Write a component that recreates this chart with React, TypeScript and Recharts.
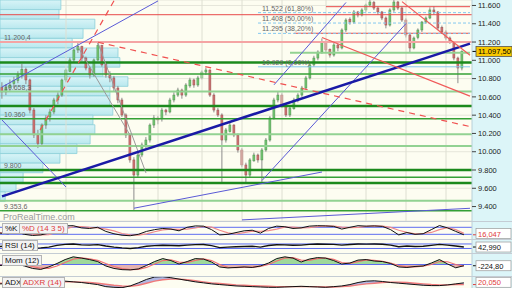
import React from 'react'
import {
  ComposedChart,
  Bar,
  Line,
  Area,
  XAxis,
  YAxis,
  ReferenceLine,
  ReferenceArea,
  CartesianGrid
} from 'recharts'

const FONT = '"Liberation Sans", Arial, sans-serif'

// daily candles
const opens = [
  10700, 10654, 10700, 10745, 10780, 10840, 10900, 10785, 10456, 10183,
  10090, 10292, 10380, 10435, 10566, 10620, 10785, 10880, 11004, 11113,
  11150, 11025, 10916, 10840, 11004, 11160, 10960, 10840, 10807, 10697,
  10566, 10402, 10183, 9910, 9745, 9964, 10074, 10128, 10292, 10369,
  10360, 10456, 10435, 10566, 10620, 10675, 10620, 10720, 10785, 10730,
  10807, 10872, 10894, 10620, 10456, 10402, 10128, 10220, 10292, 10183,
  10019, 9855, 9745, 9900, 9964, 9910, 10019, 10128, 10369, 10566,
  10620, 10511, 10402, 10470, 10566, 10620, 10697, 10807, 10950, 11025,
  11091, 11200, 11120, 11058, 11168, 11135, 11332, 11450, 11419, 11529,
  11496, 11551, 11605, 11630, 11572, 11529, 11463, 11386, 11551, 11638,
  11572, 11441, 11277, 11135, 11250, 11332, 11419, 11463, 11551, 11529,
  11360, 11310, 11244, 11200, 11025, 10916
]
const highs = [
  10760, 10740, 10790, 10820, 10880, 10960, 10920, 10800, 10480, 10240,
  10310, 10400, 10470, 10590, 10650, 10800, 10910, 11030, 11130, 11190,
  11160, 11040, 10930, 11020, 11200, 11170, 10980, 10880, 10830, 10720,
  10590, 10420, 10200, 9940, 9990, 10100, 10160, 10310, 10400, 10390,
  10480, 10470, 10590, 10650, 10700, 10690, 10750, 10810, 10800, 10830,
  10890, 10920, 10900, 10640, 10480, 10420, 10260, 10320, 10300, 10200,
  10040, 9880, 9930, 9990, 9980, 10040, 10150, 10390, 10590, 10660,
  10640, 10530, 10500, 10590, 10640, 10720, 10830, 10970, 11050, 11110,
  11240, 11220, 11130, 11190, 11180, 11350, 11460, 11470, 11550, 11540,
  11570, 11620, 11660, 11650, 11590, 11540, 11480, 11570, 11660, 11650,
  11590, 11460, 11300, 11260, 11350, 11430, 11480, 11580, 11590, 11540,
  11380, 11330, 11260, 11210, 11040, 11110
]
const lows = [
  10580, 10620, 10660, 10690, 10750, 10800, 10740, 10420, 10150, 10040,
  10070, 10250, 10330, 10410, 10520, 10600, 10760, 10870, 10980, 11080,
  10990, 10890, 10800, 10820, 10990, 10930, 10810, 10760, 10660, 10530,
  10380, 10150, 9880, 9353.6, 9720, 9940, 10040, 10100, 10260, 10300,
  10330, 10400, 10420, 10540, 10600, 10580, 10600, 10700, 10700, 10710,
  10790, 10840, 10600, 10430, 10380, 9669, 10100, 10210, 10160, 9990,
  9830, 9669, 9720, 9890, 9880, 9669, 10000, 10110, 10350, 10540,
  10480, 10380, 10380, 10460, 10540, 10600, 10680, 10790, 10930, 11000,
  11070, 11090, 11030, 11040, 11100, 11120, 11310, 11390, 11400, 11470,
  11480, 11530, 11590, 11550, 11500, 11440, 11350, 11370, 11530, 11550,
  11420, 11250, 11080, 11120, 11230, 11310, 11400, 11450, 11500, 11330,
  11290, 11220, 11180, 11000, 10750, 10890
]
const closes = [
  10654, 10700, 10730, 10780, 10840, 10900, 10785, 10456, 10183, 10090,
  10292, 10369, 10435, 10566, 10620, 10785, 10894, 11004, 11113, 11150,
  11025, 10916, 10840, 11004, 11160, 10950, 10840, 10807, 10697, 10566,
  10402, 10183, 9910, 9745, 9964, 10074, 10128, 10292, 10369, 10347,
  10456, 10435, 10566, 10620, 10675, 10620, 10730, 10785, 10730, 10807,
  10872, 10894, 10620, 10456, 10402, 10128, 10238, 10292, 10183, 10019,
  9855, 9745, 9910, 9964, 9910, 10019, 10128, 10369, 10566, 10620,
  10511, 10402, 10478, 10566, 10620, 10697, 10807, 10950, 11025, 11091,
  11200, 11113, 11058, 11168, 11135, 11332, 11441, 11419, 11529, 11496,
  11551, 11605, 11638, 11572, 11529, 11463, 11386, 11551, 11638, 11572,
  11441, 11277, 11135, 11244, 11332, 11419, 11463, 11551, 11529, 11354,
  11310, 11244, 11200, 11025, 10916, 11097.5
]
const SLOTS = 118
const PRICE_DOMAIN = [9242, 11660]

const priceTicks = [9400, 9600, 9800, 10000, 10200, 10400, 10600, 10800, 11000, 11200, 11400, 11600]

// volume profile (bucket low price, volume)
const profileLows = [
  11555, 11450, 11345, 11240, 11135, 11030, 10925, 10820, 10715, 10610, 10505,
  10400, 10295, 10190, 10085, 9980, 9875, 9770, 9665, 9560, 9455
]
const profileVolume = [129, 125, 201, 176, 153, 250, 254, 218, 271, 233, 233, 239, 197, 201, 191, 163, 127, 91, 49, 34, 11]
const profileBin = 105

// support / resistance levels
const redLevels = [11587, 11499, 11296]
const redStarts = [81, 0, 73]
const pinkLevel = 11200.4
const darkGreenLevels = [10976, 10500, 9800, 9658]
const midGreenLevels = [10850, 10360, 9720, 9353.6]
const lightGreenLevels = [11084, 10658.3, 10190, 10063, 9464]
const lightGreenStarts = [72, 0, 0, 0, 0]
const taggedLevels = [11200.4, 10658.3, 10360, 9800, 9353.6]

// fibonacci retracement
const fibLevels = [11522, 11408, 11295, 10929]
const fibPct = ['61,80%', '50,00%', '38,20%', '0,00%']
const fibStart = 64

// trend lines [day1, price1, day2, price2]
const thinBlue = [
  [0, 10708, 39, 11650],
  [0, 10347, 16, 9614],
  [33, 9382, 80, 9778],
  [65, 9685, 101, 11402],
  [68, 10732, 86, 11633],
  [60, 9254, 117, 9381]
]
const thickBlue = [[0, 9512, 117, 11183]]
const grayLines = [
  [19, 11146, 32, 10183],
  [24, 11190, 36, 9767]
]
const redDashed = [
  [28, 11651, 9, 10197],
  [24, 11198, 117, 10275]
]
const redSolid = [
  [80, 11249, 117, 10608],
  [100, 11642, 117, 11055]
]
const monthStarts = [16, 39, 50, 60, 70, 81, 91, 101, 111]

// indicators (sampled every 2 days)
const stochK = [30, 25, 40, 20, 10, 15, 30, 70, 92, 94, 75, 70, 80, 45, 25, 12, 8, 20, 45, 60, 70, 65, 50, 80, 92, 90, 60, 15, 20, 35, 50, 55, 30, 70, 90, 85, 70, 75, 90, 94, 92, 88, 65, 80, 94, 90, 92, 88, 60, 15, 35, 20, 25, 60, 95, 75, 45, 16.047]
const stochD = [34, 30, 32, 28, 22, 15, 18, 38, 64, 85, 87, 80, 75, 65, 50, 27, 15, 13, 24, 42, 58, 65, 62, 65, 74, 87, 81, 55, 32, 23, 35, 47, 45, 52, 64, 82, 82, 76, 78, 86, 92, 91, 82, 78, 80, 88, 92, 90, 80, 55, 37, 24, 27, 36, 60, 77, 60, 28]
const rsi = [48, 52, 58, 45, 32, 35, 42, 58, 66, 70, 62, 60, 64, 52, 42, 35, 30, 38, 50, 55, 58, 57, 54, 60, 64, 65, 55, 38, 42, 45, 48, 50, 42, 56, 63, 62, 58, 60, 66, 70, 68, 66, 60, 65, 70, 69, 70, 68, 60, 45, 52, 48, 50, 58, 66, 60, 52, 42.99]
const mom = [-180, -90, 90, -270, -720, -900, -450, 180, 900, 1400, 1170, 900, 540, -270, -720, -940, -990, -810, -180, 540, 1080, 720, 90, 540, 1080, 990, 450, -450, -630, -540, -450, -540, -270, 270, 1080, 1400, 1170, 450, 990, 1260, 1170, 720, 90, 270, 810, 900, 630, 540, 180, -450, -540, -360, -270, 270, 900, 100, -600, -224.8]
const momSignal = [-90, -110, -40, -90, -360, -680, -720, -270, 360, 990, 1220, 1040, 760, 180, -360, -760, -940, -900, -540, 90, 720, 860, 450, 360, 760, 1010, 720, 0, -500, -580, -500, -490, -360, 0, 630, 1170, 1260, 810, 760, 1080, 1190, 940, 360, 220, 540, 830, 760, 580, 270, -180, -450, -450, -320, 0, 540, 500, 0, -300]
const adx = [22, 23, 24, 22, 21, 24, 28, 33, 30, 28, 26, 23, 20, 14, 12, 11, 16, 25, 35, 42, 43, 40, 36, 32, 28, 25, 22, 20, 18, 16, 15, 14, 13, 12, 12, 13, 14, 15, 14, 13, 12, 14, 16, 20, 26, 30, 31, 29, 26, 24, 22, 20, 18, 17, 17, 19, 22, 25]
const adxr = [24, 24, 23, 23, 22, 22, 24, 27, 28, 28, 27, 26, 24, 21, 18, 16, 15, 18, 24, 30, 34, 36, 36, 34, 31, 28, 25, 23, 21, 19, 18, 17, 16, 15, 14, 14, 14, 14, 14, 14, 13, 13, 14, 16, 19, 22, 24, 26, 27, 27, 26, 24, 22, 20, 19, 19, 20, 20.05]
const PANEL_SLOTS = 59

const fmtPrice = (v: number, dec = 0) => {
  const a = Math.abs(v)
  const int = Math.floor(a + 1e-9)
  let s = String(int).replace(/\B(?=(\d{3})+(?!\d))/g, '.')
  if (dec > 0) s += ',' + String(Math.round((a - int) * 10 ** dec)).padStart(dec, '0')
  return (v < 0 ? '-' : '') + s
}
const decimalsOf = (v: number) => (Number.isInteger(v) ? 0 : 1)

const rows = Array.from({ length: SLOTS }, (_, i) =>
  i < closes.length ? { i, o: opens[i], h: highs[i], l: lows[i], c: closes[i] } : { i }
)
const profileRows = profileLows.map((lo, n) => ({ vol: profileVolume[n], lo }))
const panelRows = Array.from({ length: PANEL_SLOTS }, (_, j) => ({
  j,
  k: stochK[j],
  d: stochD[j],
  rsi: rsi[j],
  mom: mom[j],
  sig: momSignal[j],
  adx: adx[j],
  adxr: adxr[j],
  band: adx[j] == null ? undefined : [adxr[j], adx[j]]
}))

const Candle = (props: any) => {
  const { x, y, width, height, payload } = props
  if (!payload || payload.h == null) return null
  const top = Math.min(y, y + height)
  const bot = Math.max(y, y + height)
  const span = payload.h - payload.l || 1
  const py = (v: number) => top + ((payload.h - v) / span) * (bot - top)
  const cx = x + width / 2
  const up = payload.c >= payload.o
  const yo = py(payload.o)
  const yc = py(payload.c)
  const bw = Math.max(2, width - 1)
  return (
    <g>
      <line x1={cx} x2={cx} y1={top} y2={bot} stroke="#8c8c8c" strokeWidth={1} />
      <rect
        x={cx - bw / 2}
        y={Math.min(yo, yc)}
        width={bw}
        height={Math.max(1, Math.abs(yo - yc))}
        fill={up ? '#74c874' : '#d27272'}
        stroke={up ? '#4b8f4b' : '#935050'}
        strokeWidth={0.5}
      />
    </g>
  )
}

const LeftTag = ({ viewBox, text }: any) => (
  <text x={viewBox.x + 4} y={viewBox.y - 2} fontSize={7} fill="#666" fontFamily={FONT}>
    {text}
  </text>
)

const RightTag = ({ viewBox, text, color, maxY }: any) => {
  const x = viewBox.x + viewBox.width
  const y = Math.min(viewBox.y, maxY)
  return (
    <g>
      <line x1={x + 1} x2={x + 4} y1={viewBox.y} y2={viewBox.y} stroke={color} strokeWidth={1} />
      <rect x={x + 4} y={y - 5} width={35} height={10} fill="#fff" stroke="#999" strokeWidth={0.7} />
      <text x={x + 6} y={y + 3} fontSize={7.5} fill={color} fontFamily={FONT}>
        {text}
      </text>
    </g>
  )
}

const seg = (s: number[]) => [
  { x: s[0], y: s[1] },
  { x: s[2], y: s[3] }
] as any

const tagBox: React.CSSProperties = {
  position: 'absolute',
  fontSize: 8,
  lineHeight: '9px',
  padding: '0 2px',
  background: '#f3f3f3',
  border: '1px solid #b4b4b4',
  color: '#111',
  whiteSpace: 'nowrap'
}

const panelAxis = (domain: number[]) => (
  <YAxis
    orientation="right"
    width={40}
    domain={domain}
    allowDataOverflow
    tick={false}
    tickLine={false}
    axisLine={{ stroke: '#b8d0d8' }}
  />
)

export default function App() {
  const lastClose = closes[closes.length - 1]
  return (
    <div style={{ position: 'relative', width: 512, height: 288, background: '#fdfdf1', fontFamily: FONT, overflow: 'hidden' }}>
      <style>{'body{margin:0}'}</style>
      <div style={{ position: 'absolute', left: 472, top: 0, width: 40, height: 288, background: '#dcf5f8' }} />

      {/* volume profile, behind the price chart */}
      <div style={{ position: 'absolute', left: 0, top: 0 }}>
        <ComposedChart width={512} height={221} data={profileRows} margin={{ top: 0, right: 40, bottom: 0, left: 0 }}>
          <defs>
            <linearGradient id="vpFill" x1="0" y1="0" x2="0" y2="1">
              <stop offset="0" stopColor="#d8f4f7" />
              <stop offset="1" stopColor="#b9e8ee" />
            </linearGradient>
          </defs>
          <XAxis type="number" dataKey="vol" domain={[0, 1000]} hide />
          <YAxis type="number" dataKey="lo" domain={PRICE_DOMAIN} ticks={priceTicks} allowDataOverflow hide />
          <CartesianGrid vertical={false} stroke="#e6e6da" />
          {profileLows.map((lo, n) => (
            <ReferenceArea
              key={'vp' + n}
              x1={0}
              x2={profileVolume[n]}
              y1={lo}
              y2={lo + profileBin}
              fill="url(#vpFill)"
              fillOpacity={1}
              stroke="#8ccfd9"
              strokeWidth={0.8}
              ifOverflow="visible"
            />
          ))}
        </ComposedChart>
      </div>

      <div style={{ position: 'absolute', left: 0, top: 0 }}>
        <ComposedChart width={512} height={221} data={rows} margin={{ top: 0, right: 0, bottom: 0, left: 0 }}>
          <XAxis dataKey="i" type="category" hide />
          <YAxis
            orientation="right"
            width={40}
            domain={PRICE_DOMAIN}
            allowDataOverflow
            ticks={priceTicks}
            interval={0}
            tickFormatter={(v: number) => fmtPrice(v)}
            tick={{ fontSize: 7.5, fill: '#222', fontFamily: FONT }}
            tickSize={4}
            tickMargin={2}
            axisLine={{ stroke: '#b8d0d8' }}
            tickLine={{ stroke: '#444' }}
          />
          {monthStarts.map((m) => (
            <ReferenceLine key={'m' + m} x={m} stroke="#dedfd2" strokeWidth={1} />
          ))}

          {lightGreenLevels.map((v, n) =>
            lightGreenStarts[n] === 0 ? (
              <ReferenceLine key={'lg' + n} y={v} stroke="#92d292" strokeWidth={2} />
            ) : (
              <ReferenceLine key={'lg' + n} segment={seg([lightGreenStarts[n], v, SLOTS - 1, v])} stroke="#92d292" strokeWidth={2} />
            )
          )}
          {midGreenLevels.map((v, n) => (
            <ReferenceLine key={'mg' + n} y={v} stroke="#35a035" strokeWidth={1.5} />
          ))}
          {darkGreenLevels.map((v, n) => (
            <ReferenceLine key={'dg' + n} y={v} stroke="#1c8a1c" strokeWidth={2.5} />
          ))}
          <ReferenceLine y={pinkLevel} stroke="#f4a4a4" strokeWidth={2} />
          {redLevels.map((v, n) =>
            redStarts[n] === 0 ? (
              <ReferenceLine key={'r' + n} y={v} stroke="#e84a4a" strokeWidth={1} />
            ) : (
              <ReferenceLine key={'r' + n} segment={seg([redStarts[n], v, SLOTS - 1, v])} stroke="#e84a4a" strokeWidth={1} />
            )
          )}
          {fibLevels.map((v, n) => (
            <ReferenceLine
              key={'f' + n}
              segment={seg([fibStart, v, SLOTS - 1, v])}
              stroke="#84c8f0"
              strokeWidth={1}
              strokeDasharray={n < 3 ? '3 2' : undefined}
              label={(p: any) => <LeftTag {...p} text={`${fmtPrice(v)} (${fibPct[n]})`} />}
            />
          ))}
          {taggedLevels.map((v, n) => (
            <ReferenceLine
              key={'t' + n}
              y={v}
              stroke="none"
              label={(p: any) => <LeftTag {...p} text={fmtPrice(v, decimalsOf(v))} />}
            />
          ))}

          <Bar dataKey={(d: any) => (d.h == null ? null : [d.l, d.h])} shape={(p: any) => <Candle {...p} />} isAnimationActive={false} />

          {grayLines.map((s, n) => (
            <ReferenceLine key={'g' + n} segment={seg(s)} stroke="#9a9a9a" strokeWidth={1} ifOverflow="hidden" />
          ))}
          {thinBlue.map((s, n) => (
            <ReferenceLine key={'tb' + n} segment={seg(s)} stroke="#5a5ad6" strokeWidth={1} ifOverflow="hidden" />
          ))}
          {thickBlue.map((s, n) => (
            <ReferenceLine key={'kb' + n} segment={seg(s)} stroke="#1a1aa6" strokeWidth={2.5} ifOverflow="hidden" />
          ))}
          {redDashed.map((s, n) => (
            <ReferenceLine key={'rd' + n} segment={seg(s)} stroke="#f05050" strokeWidth={1.2} strokeDasharray="6 5" ifOverflow="hidden" />
          ))}
          {redSolid.map((s, n) => (
            <ReferenceLine key={'rs' + n} segment={seg(s)} stroke="#f05a5a" strokeWidth={1.2} ifOverflow="hidden" />
          ))}
          <ReferenceLine
            y={lastClose}
            stroke="none"
            label={(p: any) => (
              <g>
                <line x1={p.viewBox.x + p.viewBox.width} x2={p.viewBox.x + p.viewBox.width + 4} y1={p.viewBox.y} y2={p.viewBox.y} stroke="#000" />
                <rect x={p.viewBox.x + p.viewBox.width + 4} y={p.viewBox.y - 5} width={36} height={10} fill="#f8c800" stroke="#555" strokeWidth={0.8} />
                <text x={p.viewBox.x + p.viewBox.width + 6} y={p.viewBox.y + 3} fontSize={7.5} fill="#000" fontFamily={FONT}>
                  {fmtPrice(lastClose, 2)}
                </text>
              </g>
            )}
          />
        </ComposedChart>
      </div>
      <div style={{ position: 'absolute', left: 3, top: 212, fontSize: 9, lineHeight: '10px', color: '#9a9a9a' }}>ProRealTime.com</div>

      {/* Stochastic */}
      <div style={{ position: 'absolute', left: 0, top: 221 }}>
        <ComposedChart width={512} height={18} data={panelRows} margin={{ top: 0, right: 0, bottom: 0, left: 0 }}>
          <XAxis dataKey="j" hide />
          {panelAxis([-20, 134])}
          <ReferenceLine y={80} stroke="#5d6cf0" />
          <ReferenceLine y={20} stroke="#5d6cf0" />
          <Line dataKey="d" stroke="#f08a8a" strokeWidth={1.2} dot={false} isAnimationActive={false} />
          <Line dataKey="k" stroke="#111" strokeWidth={1} dot={false} isAnimationActive={false} />
          <ReferenceLine y={stochK[stochK.length - 1]} stroke="none" label={(p: any) => <RightTag {...p} text={fmtPrice(stochK[stochK.length - 1], 3)} color="#e03c3c" maxY={12.5} />} />
        </ComposedChart>
      </div>

      {/* RSI */}
      <div style={{ position: 'absolute', left: 0, top: 239 }}>
        <ComposedChart width={512} height={14} data={panelRows} margin={{ top: 0, right: 0, bottom: 0, left: 0 }}>
          <XAxis dataKey="j" hide />
          {panelAxis([-10, 114])}
          <ReferenceLine y={70} stroke="#5d6cf0" />
          <ReferenceLine y={30} stroke="#5d6cf0" />
          <Line dataKey="rsi" stroke="#111" strokeWidth={1.4} dot={false} isAnimationActive={false} />
          <ReferenceLine y={rsi[rsi.length - 1]} stroke="none" label={(p: any) => <RightTag {...p} text={fmtPrice(rsi[rsi.length - 1], 3)} color="#111" maxY={8.5} />} />
        </ComposedChart>
      </div>

      {/* Momentum */}
      <div style={{ position: 'absolute', left: 0, top: 253 }}>
        <ComposedChart width={512} height={23} data={panelRows} margin={{ top: 0, right: 0, bottom: 0, left: 0 }}>
          <defs>
            <linearGradient id="momFill" gradientUnits="userSpaceOnUse" x1={0} y1={0} x2={0} y2={23}>
              <stop offset="0" stopColor="#9fd89a" />
              <stop offset="0.5" stopColor="#9fd89a" />
              <stop offset="0.5" stopColor="#e6b2ae" />
              <stop offset="1" stopColor="#e6b2ae" />
            </linearGradient>
          </defs>
          <XAxis dataKey="j" hide />
          {panelAxis([-2100, 2100])}
          <Area dataKey="mom" baseValue={0} stroke="none" fill="url(#momFill)" fillOpacity={1} isAnimationActive={false} />
          <ReferenceLine y={0} stroke="#5d6cf0" />
          <Line dataKey="sig" stroke="#f07070" strokeWidth={1.2} dot={false} isAnimationActive={false} />
          <Line dataKey="mom" stroke="#111" strokeWidth={1} dot={false} isAnimationActive={false} />
          <ReferenceLine y={mom[mom.length - 1]} stroke="none" label={(p: any) => <RightTag {...p} text={fmtPrice(mom[mom.length - 1], 2)} color="#111" maxY={17} />} />
        </ComposedChart>
      </div>

      {/* ADX */}
      <div style={{ position: 'absolute', left: 0, top: 276 }}>
        <ComposedChart width={512} height={12} data={panelRows} margin={{ top: 0, right: 0, bottom: 0, left: 0 }}>
          <XAxis dataKey="j" hide />
          {panelAxis([10, 45])}
          <Area dataKey="band" stroke="none" fill="#9ea6e0" fillOpacity={0.8} isAnimationActive={false} />
          <Line dataKey="adxr" stroke="#f07a7a" strokeWidth={1.4} dot={false} isAnimationActive={false} />
          <Line dataKey="adx" stroke="#111" strokeWidth={1} dot={false} isAnimationActive={false} />
          <ReferenceLine y={adxr[adxr.length - 1]} stroke="none" label={(p: any) => <RightTag {...p} text={fmtPrice(adxr[adxr.length - 1], 3)} color="#e03c3c" maxY={6.3} />} />
        </ComposedChart>
      </div>

      {[221, 239, 253, 276].map((t) => (
        <div key={t} style={{ position: 'absolute', left: 0, top: t, width: 512, height: 1, background: '#c4ccd4' }} />
      ))}

      <div style={{ ...tagBox, left: 2, top: 223 }}>%K</div>
      <div style={{ ...tagBox, left: 19, top: 223, color: '#e03c3c' }}>%D (14 3 5)</div>
      <div style={{ ...tagBox, left: 2, top: 240 }}>RSI (14)</div>
      <div style={{ ...tagBox, left: 2, top: 255 }}>Mom (12)</div>
      <div style={{ ...tagBox, left: 2, top: 277 }}>ADX</div>
      <div style={{ ...tagBox, left: 20, top: 277, color: '#e03c3c' }}>ADXR (14)</div>
    </div>
  )
}
